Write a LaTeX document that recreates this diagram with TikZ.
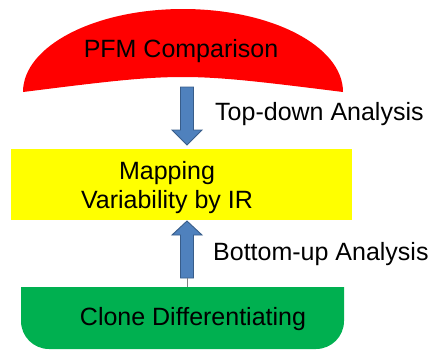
\documentclass[tikz,border=0pt]{standalone}
\usepackage{fontspec}
\setmainfont{Liberation Sans}
\definecolor{pfmred}{HTML}{FF0000}
\definecolor{irYellow}{HTML}{FFFF00}
\definecolor{cloneGreen}{HTML}{00B050}
\definecolor{arrowBlue}{HTML}{4F81BD}
\definecolor{arrowEdge}{HTML}{385D8A}
\begin{document}
\begin{tikzpicture}[x=1pt,y=-1pt,
  label text/.style={font=\fontsize{25}{30}\selectfont, inner sep=0pt, text=black},
  block arrow/.style={fill=arrowBlue, draw=arrowEdge, line width=0.9pt, line join=miter},
  thin link/.style={draw=gray, line width=0.8pt}]
\useasboundingbox (0,0) rectangle (430,349);

% red dome: elliptical top, slightly arched base
\fill[pfmred] (23,92) arc[start angle=180, end angle=360, x radius=160, y radius=83]
  .. controls (182.5,72) .. (23,92) -- cycle;
\node[label text, anchor=base] (pfm) at (181,57) {PFM Comparison};

% yellow mapping box
\node[fill=irYellow, minimum width=341pt, minimum height=71pt, inner sep=0pt] (ir) at (181.5,184.5) {};
\node[label text, anchor=base] (irA) at (167,179) {Mapping};
\node[label text, anchor=base] (irB) at (167,208) {Variability by IR};

% green base with rounded lower corners
\fill[cloneGreen] (21,287) -- (344,287) -- (344,321) arc[start angle=0, end angle=90, radius=28]
  -- (49,349) arc[start angle=90, end angle=180, radius=28] -- cycle;
\coordinate (cloneTop) at (187,287);
\node[label text, anchor=base] (clone) at (193,325) {Clone Differentiating};

% downward block arrow
\draw[block arrow] (180.5,87) -- (193.5,87) -- (193.5,130) -- (202,130) -- (187,145)
  -- (172,130) -- (180.5,130) -- cycle;
\node[label text, anchor=base west] (topdown) at (215,120) {Top-down Analysis};

% upward block arrow
\draw[block arrow] (187,221) -- (202,235) -- (193.5,235) -- (193.5,278) -- (180.5,278)
  -- (180.5,235) -- (172,235) -- cycle;
\coordinate (upBase) at (187,278);
\draw[thin link] (upBase) -- (cloneTop);
\node[label text, anchor=base west] (bottomup) at (213,260) {Bottom-up Analysis};
\end{tikzpicture}
\end{document}
